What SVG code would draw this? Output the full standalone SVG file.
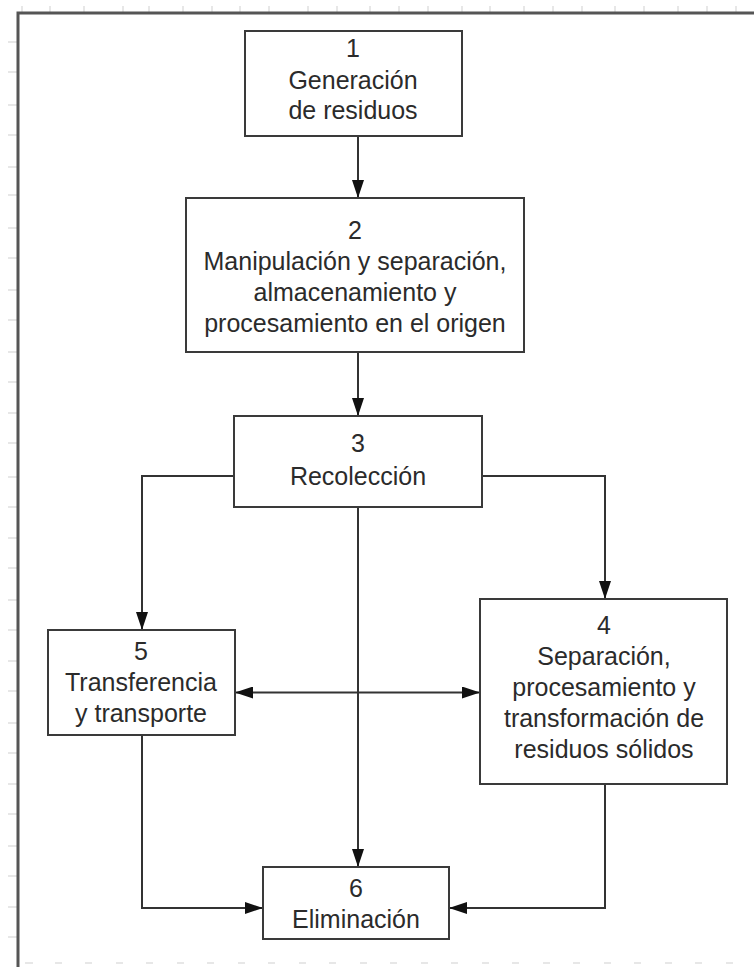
<svg xmlns="http://www.w3.org/2000/svg" width="754" height="967" viewBox="0 0 754 967">
  <style>
    .box { fill: #ffffff; stroke: #3a3a3a; stroke-width: 2; }
    .lbl { font-family: "Liberation Sans", Arial, sans-serif; font-size: 25px; fill: #2b2b2b; text-anchor: middle; }
    .conn { fill: none; stroke: #333333; stroke-width: 2; }
    .frame { fill: none; stroke: #555555; stroke-width: 3; }
    .tick { stroke: #cfcfcf; stroke-width: 1; }
  </style>
  <defs>
    <marker id="arrow" markerUnits="userSpaceOnUse" markerWidth="18" markerHeight="12" refX="18" refY="6" orient="auto-start-reverse">
      <path d="M0,0 L18,6 L0,12 z" fill="#111111"/>
    </marker>
  </defs>
  <rect x="0" y="0" width="754" height="967" fill="#ffffff"/>
  <g id="ruler">
    <path class="tick" d="M22,6V13 M50,6V13 M84,6V13 M123,6V13 M149,6V13 M183,6V13 M212,6V13 M240,6V13 M269,6V13 M308,6V13 M337,6V13 M370,6V13 M399,6V13 M428,6V13 M462,6V13 M490,6V13 M524,6V13 M553,6V13 M582,6V13 M615,6V13 M644,6V13 M678,6V13 M707,6V13 M736,6V13"/>
    <path class="tick" d="M8,42H17 M8,72H17 M8,105H17 M8,135H17 M8,167H17 M8,195H17 M8,228H17 M8,258H17 M8,290H17 M8,320H17 M8,352H17 M8,382H17 M8,413H17 M8,443H17 M8,477H17 M8,507H17 M8,538H17 M8,568H17 M8,600H17 M8,630H17 M8,661H17 M8,691H17 M8,723H17 M8,753H17 M8,784H17 M8,814H17 M8,846H17 M8,876H17 M8,907H17 M8,937H17"/>
    <path class="tick" d="M25,963H33 M55,963H62 M85,963H92 M116,963H123 M146,963H153 M177,963H184 M207,963H214 M238,963H245 M268,963H275 M299,963H306 M329,963H336 M360,963H367 M390,963H397 M421,963H428 M451,963H458 M482,963H489 M512,963H519 M543,963H550 M573,963H580 M604,963H611 M634,963H641 M665,963H672 M695,963H702 M726,963H733"/>
  </g>
  <path class="frame" d="M18,967 V13 H754"/>
  <g id="connectors">
    <path class="conn" d="M358,136 V198" marker-end="url(#arrow)"/>
    <path class="conn" d="M358,352 V416" marker-end="url(#arrow)"/>
    <path class="conn" d="M234,476 H142 V630" marker-end="url(#arrow)"/>
    <path class="conn" d="M482,476 H605 V599" marker-end="url(#arrow)"/>
    <path class="conn" d="M358,507 V867" marker-end="url(#arrow)"/>
    <path class="conn" d="M235,692.5 H480" marker-start="url(#arrow)" marker-end="url(#arrow)"/>
    <path class="conn" d="M142,735 V908 H263" marker-end="url(#arrow)"/>
    <path class="conn" d="M605,784 V908 H449" marker-end="url(#arrow)"/>
  </g>
  <g id="node1">
    <rect class="box" x="245" y="31" width="217" height="105"/>
    <text class="lbl" x="353" y="57">1</text>
    <text class="lbl" x="353" y="89">Generación</text>
    <text class="lbl" x="353" y="119">de residuos</text>
  </g>
  <g id="node2">
    <rect class="box" x="186" y="198" width="338" height="154"/>
    <text class="lbl" x="355" y="239">2</text>
    <text class="lbl" x="355" y="270">Manipulación y separación,</text>
    <text class="lbl" x="355" y="301">almacenamiento y</text>
    <text class="lbl" x="355" y="332">procesamiento en el origen</text>
  </g>
  <g id="node3">
    <rect class="box" x="234" y="416" width="248" height="91"/>
    <text class="lbl" x="358" y="452">3</text>
    <text class="lbl" x="358" y="485">Recolección</text>
  </g>
  <g id="node4">
    <rect class="box" x="480" y="599" width="247" height="185"/>
    <text class="lbl" x="604" y="634">4</text>
    <text class="lbl" x="604" y="665">Separación,</text>
    <text class="lbl" x="604" y="696">procesamiento y</text>
    <text class="lbl" x="604" y="727">transformación de</text>
    <text class="lbl" x="604" y="758">residuos sólidos</text>
  </g>
  <g id="node5">
    <rect class="box" x="48" y="630" width="187" height="105"/>
    <text class="lbl" x="141" y="660">5</text>
    <text class="lbl" x="141" y="691">Transferencia</text>
    <text class="lbl" x="141" y="722">y transporte</text>
  </g>
  <g id="node6">
    <rect class="box" x="263" y="867" width="186" height="72"/>
    <text class="lbl" x="356" y="897">6</text>
    <text class="lbl" x="356" y="928">Eliminación</text>
  </g>
</svg>
